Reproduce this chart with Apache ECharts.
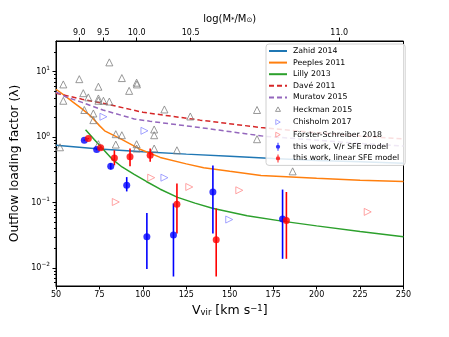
<!DOCTYPE html>
<html>
<head>
<meta charset="utf-8">
<script src="https://cdn.jsdelivr.net/npm/echarts@6/dist/echarts.min.js"></script>
<style>
html,body{margin:0;padding:0;background:#fff;}
#chart{width:449px;height:337px;}
</style>
</head>
<body>
<div id="chart"></div>
<script>
// model curves (Vvir in km/s, loading factor)
var zahidV = [50, 75, 100, 125, 150, 175, 200, 225, 250];
var zahidL = [0.75, 0.66, 0.60, 0.55, 0.51, 0.47, 0.44, 0.42, 0.40];
var peeplesV = [50, 55, 60, 65, 70, 75, 78, 87, 98, 110, 125, 135, 150, 168, 200, 225, 250];
var peeplesL = [5.4, 4.3, 3.4, 2.7, 2.1, 1.5, 1.25, 0.95, 0.66, 0.49, 0.39, 0.34, 0.30, 0.26, 0.235, 0.22, 0.21];
var lillyV = [67, 72, 77, 82, 88, 95, 102, 110, 120, 130, 140, 160, 180, 200, 225, 250];
var lillyL = [1.3, 0.92, 0.66, 0.47, 0.35, 0.27, 0.21, 0.16, 0.12, 0.098, 0.082, 0.063, 0.052, 0.044, 0.036, 0.030];
var daveV = [50, 65, 77, 100, 133, 168, 200, 225, 250];
var daveL = [4.7, 3.8, 3.3, 2.4, 1.82, 1.4, 1.17, 1.04, 0.94];
var muratovV = [50, 56, 65, 77, 95, 104, 133, 170, 200, 225, 250];
var muratovL = [4.9, 4.1, 3.4, 2.6, 1.9, 1.75, 1.4, 1.03, 0.9, 0.8, 0.73];

// observations
var heckmanV = [80.7, 54.2, 63.4, 87.9, 96.4, 96.6, 74.4, 65.7, 68.6, 54.2, 74.4, 74.4, 77.3, 80.7, 92.1,
  66.3, 71.5, 71.5, 112.4, 127.3, 165.7, 106.5, 106.5, 84.4, 87.9, 165.7, 52.3, 74.4, 84.4, 96.4, 96.4, 106.5, 119.6, 186.2];
var heckmanL = [13.9, 6.4, 7.7, 8.0, 6.8, 6.4, 5.9, 4.7, 4.05, 3.6, 3.9, 3.6, 3.6, 3.5, 5.1,
  2.6, 2.3, 1.82, 2.65, 2.07, 2.6, 1.31, 1.07, 1.11, 1.07, 0.93, 0.70, 0.78, 0.77, 0.78, 0.67, 0.67, 0.63, 0.30];
var chisholmV = [77.3, 100.9, 112.4, 149.7];
var chisholmL = [2.05, 1.25, 0.24, 0.055];
var forsterV = [84.4, 104.8, 126.7, 155.5, 229.4];
var forsterL = [0.102, 0.24, 0.173, 0.154, 0.072];

// this work
var vrV = [66.3, 73.4, 81.5, 90.7, 102.3, 117.6, 140.3, 180.4];
var vrL = [0.90, 0.65, 0.36, 0.184, 0.030, 0.032, 0.145, 0.056];
var vrLo = [0.88, 0.63, 0.32, 0.148, 0.0096, 0.0074, 0.0335, 0.0138];
var vrHi = [0.92, 0.67, 0.40, 0.245, 0.069, 0.097, 0.37, 0.158];
var linV = [68.6, 75.7, 83.6, 92.6, 104.2, 119.6, 142.2, 182.6];
var linL = [0.95, 0.69, 0.48, 0.50, 0.53, 0.094, 0.027, 0.053];
var linLo = [0.93, 0.67, 0.37, 0.36, 0.42, 0.0335, 0.0074, 0.0138];
var linHi = [0.97, 0.71, 0.63, 0.67, 0.67, 0.195, 0.081, 0.145];

// axis ticks
var xTicks = [50, 75, 100, 125, 150, 175, 200, 225, 250];
var yMajor = [0.01, 0.1, 1, 10];
var yMinor = [0.006, 0.007, 0.008, 0.009, 0.02, 0.03, 0.04, 0.05, 0.06, 0.07, 0.08, 0.09,
  0.2, 0.3, 0.4, 0.5, 0.6, 0.7, 0.8, 0.9, 2, 3, 4, 5, 6, 7, 8, 9, 20];
var topTickV = [63.4, 77.2, 96.4, 127.5, 213.0];
var topTickLabels = ['9.0', '9.5', '10.0', '10.5', '11.0'];

function zip(a, b) { return a.map(function (v, i) { return [v, b[i]]; }); }
function zip4(a, b, c, d) { return a.map(function (v, i) { return [v, b[i], c[i], d[i]]; }); }

var FONT = 'DejaVu Sans';
var myChart = echarts.init(document.getElementById('chart'));

function lineSeries(name, v, l, color, dashed) {
  return {
    name: name, type: 'line', data: zip(v, l), symbol: 'none', z: 2,
    lineStyle: { color: color, width: 1.5, type: dashed ? [5, 3] : 'solid' },
    itemStyle: { color: color }
  };
}
function errSeries(name, data, color) {
  return {
    name: name, type: 'custom', data: data, z: 4,
    encode: { x: 0, y: [2, 3] },
    renderItem: function (params, api) {
      var p1 = api.coord([api.value(0), api.value(2)]);
      var p2 = api.coord([api.value(0), api.value(3)]);
      return { type: 'line', shape: { x1: p1[0], y1: p1[1], x2: p2[0], y2: p2[1] },
        style: { stroke: color, lineWidth: 1.6 } };
    }
  };
}
// legend icons padded with bare moveTo points so they stay small
var errIcon = 'path://M0,0M18,9M8.4,0h1.2v9h-1.2z M6.6,4.5a2.4,2.4 0 1,1 4.8,0a2.4,2.4 0 1,1 -4.8,0z';
var triUpIcon = 'path://M0,0M18,9M9,1.6L11.8,6.6L6.2,6.6Z';
var triRightIcon = 'path://M0,0M18,9M6.5,1.7L11.5,4.5L6.5,7.3Z';
var hideDot = { itemStyle: { opacity: 0, color: 'rgba(0,0,0,0)', borderWidth: 0 } };
function lineItem(name) { return Object.assign({ name: name }, hideDot); }
function openItem(name, icon, color) {
  return { name: name, icon: icon, symbolRotate: 0,
    itemStyle: { color: 'rgba(255,255,255,0)', borderColor: color, borderWidth: 1 } };
}

var option = {
  animation: false,
  textStyle: { fontFamily: FONT },
  grid: { left: 56, right: 45.5, top: 41, bottom: 51, show: true, borderColor: '#000', borderWidth: 1 },
  legend: {
    orient: 'vertical', left: 266, top: 44, padding: [3, 6, 3, 2],
    itemWidth: 18, itemHeight: 8, itemGap: 3.6, symbolKeepAspect: true,
    backgroundColor: 'rgba(255,255,255,0.85)', borderColor: '#d0d0d0', borderWidth: 1, borderRadius: 3,
    textStyle: { fontSize: 7.8, color: '#000', fontFamily: FONT, padding: [0, 0, 0, 1] },
    data: [
      lineItem('Zahid 2014'), lineItem('Peeples 2011'), lineItem('Lilly 2013'),
      lineItem('Davé 2011'), lineItem('Muratov 2015'),
      openItem('Heckman 2015', triUpIcon, '#7f7f7f'),
      openItem('Chisholm 2017', triRightIcon, '#8c8cff'),
      openItem('Förster-Schreiber 2018', triRightIcon, '#ff8c8c'),
      { name: 'this work, V/r SFE model', icon: errIcon },
      { name: 'this work, linear SFE model', icon: errIcon }
    ]
  },
  xAxis: [{
    type: 'value', min: 50, max: 250, interval: 25, position: 'bottom',
    name: 'V{sub|vir} [km s{sup|−1}]', nameLocation: 'middle', nameGap: 17,
    nameTextStyle: { fontSize: 12.5, color: '#000', rich: {
      sub: { fontSize: 8.5, lineHeight: 8, verticalAlign: 'bottom' },
      sup: { fontSize: 8.5, lineHeight: 8, verticalAlign: 'top' } } },
    axisLine: { lineStyle: { color: '#000', width: 1 } },
    axisTick: { length: 3.5, lineStyle: { color: '#000' } },
    axisLabel: { fontSize: 8, color: '#000', margin: 5 },
    splitLine: { show: false }
  }, {
    type: 'value', min: 50, max: 250, position: 'top',
    name: 'log(M{sub|*}/M{sub|⊙})', nameLocation: 'middle', nameGap: 15,
    nameTextStyle: { fontSize: 10, color: '#000', rich: {
      sub: { fontSize: 7, lineHeight: 6, verticalAlign: 'bottom' } } },
    axisLine: { lineStyle: { color: '#000', width: 1 } },
    axisTick: { length: 3.5, lineStyle: { color: '#000' }, customValues: topTickV },
    axisLabel: { fontSize: 8, color: '#000', margin: 4, customValues: topTickV,
      formatter: function (val) {
        var best = 0;
        topTickV.forEach(function (t, i) { if (Math.abs(t - val) < Math.abs(topTickV[best] - val)) best = i; });
        return topTickLabels[best];
      } },
    splitLine: { show: false }
  }],
  yAxis: [{
    type: 'log', min: 0.0053, max: 29.5, position: 'left',
    name: 'Outflow loading factor (λ)', nameLocation: 'middle', nameGap: 30,
    nameTextStyle: { fontSize: 12.3, color: '#000' },
    axisLine: { lineStyle: { color: '#000', width: 1 } },
    axisTick: { length: 3.5, lineStyle: { color: '#000' }, customValues: yMajor },
    axisLabel: { color: '#000', margin: 6, customValues: yMajor,
      formatter: function (val) {
        var e = Math.round(Math.log10(val));
        return '{b|10}{sup|' + (e < 0 ? '−' + (-e) : e) + '}';
      },
      rich: { b: { fontSize: 8, lineHeight: 12 }, sup: { fontSize: 5.8, lineHeight: 6, verticalAlign: 'top' } } },
    splitLine: { show: false }
  }, {
    type: 'log', min: 0.0053, max: 29.5, position: 'left',
    axisLine: { show: false },
    axisTick: { length: 2, lineStyle: { color: '#000' }, customValues: yMinor },
    axisLabel: { show: false },
    splitLine: { show: false }
  }],
  series: [
    lineSeries('Zahid 2014', zahidV, zahidL, '#1f77b4', false),
    lineSeries('Peeples 2011', peeplesV, peeplesL, '#ff7f0e', false),
    lineSeries('Lilly 2013', lillyV, lillyL, '#2ca02c', false),
    lineSeries('Davé 2011', daveV, daveL, '#d62728', true),
    lineSeries('Muratov 2015', muratovV, muratovL, '#9467bd', true),
    { name: 'Heckman 2015', type: 'scatter', data: zip(heckmanV, heckmanL), symbol: 'triangle', symbolSize: 7, z: 3,
      itemStyle: { color: 'rgba(255,255,255,0)', borderColor: '#7f7f7f', borderWidth: 1 } },
    { name: 'Chisholm 2017', type: 'scatter', data: zip(chisholmV, chisholmL), symbol: 'triangle', symbolRotate: -90, symbolSize: 7, z: 3,
      itemStyle: { color: 'rgba(255,255,255,0)', borderColor: '#8c8cff', borderWidth: 1 } },
    { name: 'Förster-Schreiber 2018', type: 'scatter', data: zip(forsterV, forsterL), symbol: 'triangle', symbolRotate: -90, symbolSize: 7, z: 3,
      itemStyle: { color: 'rgba(255,255,255,0)', borderColor: '#ff8c8c', borderWidth: 1 } },
    errSeries('vrErr', zip4(vrV, vrL, vrLo, vrHi), '#0000ff'),
    errSeries('linErr', zip4(linV, linL, linLo, linHi), '#ff0000'),
    { name: 'this work, V/r SFE model', type: 'scatter', data: zip(vrV, vrL), symbol: 'circle', symbolSize: 7, z: 5,
      itemStyle: { color: '#0000ff' } },
    { name: 'this work, linear SFE model', type: 'scatter', data: zip(linV, linL), symbol: 'circle', symbolSize: 7, z: 5,
      itemStyle: { color: '#ff0000' } }
  ]
};
myChart.setOption(option);
</script>
</body>
</html>
